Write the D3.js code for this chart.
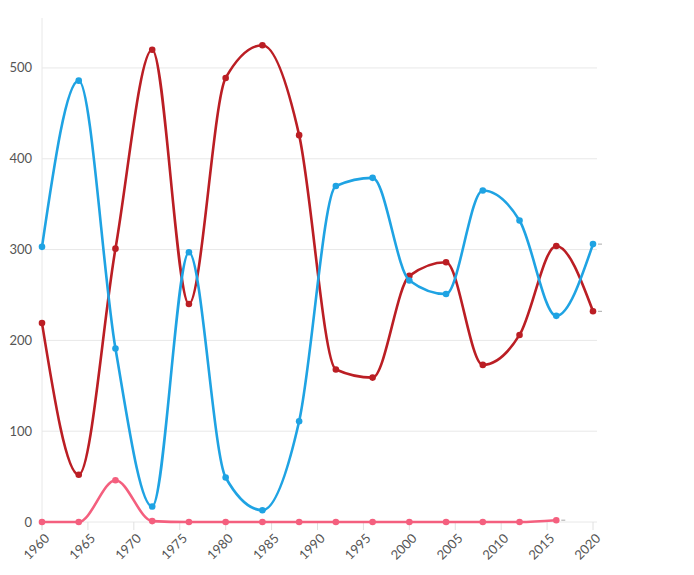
<!DOCTYPE html>
<html><head><meta charset="utf-8">
<script src="https://cdn.jsdelivr.net/npm/d3@7"></script>
<style>body{margin:0;background:#fff}svg{display:block}text{font-family:Lato,"Open Sans",sans-serif}</style>
</head><body><svg id="c" width="694" height="575"></svg>
<script>
const years = [1960,1964,1968,1972,1976,1980,1984,1988,1992,1996,2000,2004,2008,2012,2016,2020];
const dem = [303,486,191,17,297,49,13,111,370,379,266,251,365,332,227,306];
const rep = [219,52,301,520,240,489,525,426,168,159,271,286,173,206,304,232];
const other = [0,0,46,1,0,0,0,0,0,0,0,0,0,0,2];
const yTicks = [0,100,200,300,400,500];
const xTicks = [1960,1965,1970,1975,1980,1985,1990,1995,2000,2005,2010,2015,2020];
const colors = {dem:"#1fa3e3", rep:"#bb1e24", other:"#f45f7e"};

const svg = d3.select("#c");
const x = d3.scaleLinear().domain([1960,2020]).range([42,593]);
const y = d3.scaleLinear().domain([0,555]).range([522,18]);

svg.append("g").selectAll("line").data(yTicks).join("line")
  .attr("x1",42).attr("x2",597).attr("y1",d=>y(d)).attr("y2",d=>y(d))
  .attr("stroke","#e8e8e8").attr("stroke-width",1);
svg.append("line").attr("x1",42).attr("x2",42).attr("y1",18).attr("y2",530)
  .attr("stroke","#e8e8e8");
svg.append("g").selectAll("text").data(yTicks).join("text")
  .attr("x",32).attr("y",d=>y(d)).attr("dy","0.35em").attr("text-anchor","end")
  .attr("font-size",13).attr("fill","#555").text(d=>d);
svg.append("g").selectAll("line").data(xTicks).join("line")
  .attr("x1",d=>x(d)).attr("x2",d=>x(d)).attr("y1",522).attr("y2",530)
  .attr("stroke","#e0e0e0");
svg.append("g").selectAll("text").data(xTicks).join("text")
  .attr("transform",d=>`translate(${x(d)+5},${536}) rotate(-45)`)
  .attr("text-anchor","end").attr("dy","0.35em")
  .attr("font-size",13).attr("fill","#555").text(d=>d);

const line = d3.line().curve(d3.curveMonotoneX).x(d=>x(d[0])).y(d=>y(d[1]));
function series(vals,col){
  const pts = vals.map((v,i)=>[years[i],v]);
  svg.append("path").attr("d",line(pts)).attr("fill","none").attr("stroke",col).attr("stroke-width",2.6);
  svg.append("g").selectAll("circle").data(pts).join("circle")
    .attr("cx",d=>x(d[0])).attr("cy",d=>y(d[1])).attr("r",3.3).attr("fill",col);
  const last = pts[pts.length-1];
  svg.append("line").attr("x1",x(last[0])+5).attr("x2",x(last[0])+9)
    .attr("y1",y(last[1])).attr("y2",y(last[1])).attr("stroke","#aaa").attr("stroke-width",1);
}
series(other,colors.other);
series(rep,colors.rep);
series(dem,colors.dem);
</script></body></html>
